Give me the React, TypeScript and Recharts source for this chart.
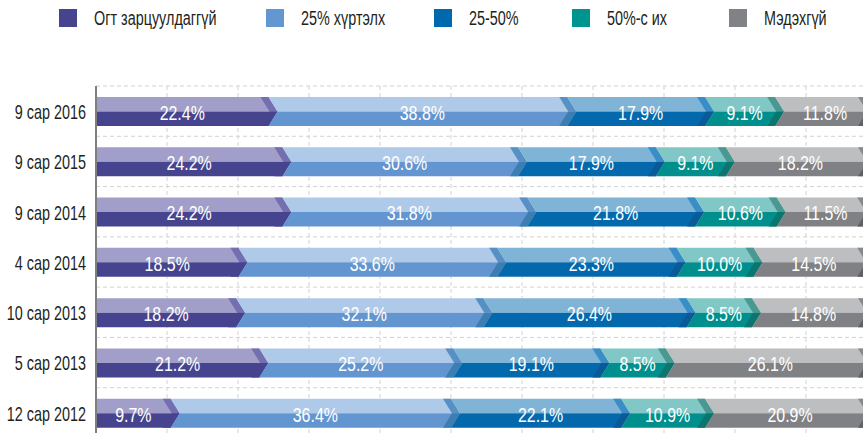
import { Bar, BarChart, CartesianGrid, LabelList, XAxis, YAxis } from "recharts";

const categories = [
  "9 сар 2016",
  "9 сар 2015",
  "9 сар 2014",
  "4 сар 2014",
  "10 сар 2013",
  "5 сар 2013",
  "12 сар 2012",
];

const seriesNames = ["Огт зарцуулдаггүй", "25% хүртэлх", "25-50%", "50%-с их", "Мэдэхгүй"];

const noneSpent = [22.4, 24.2, 24.2, 18.5, 18.2, 21.2, 9.7];
const upTo25 = [38.8, 30.6, 31.8, 33.6, 32.1, 25.2, 36.4];
const from25to50 = [17.9, 17.9, 21.8, 23.3, 26.4, 19.1, 22.1];
const over50 = [9.1, 9.1, 10.6, 10.0, 8.5, 8.5, 10.9];
const unknown = [11.8, 18.2, 11.5, 14.5, 14.8, 26.1, 20.9];

const keys = ["none", "upTo25", "mid", "over50", "unknown"];

const data = categories.map((cat, i) => ({
  cat,
  none: noneSpent[i],
  upTo25: upTo25[i],
  mid: from25to50[i],
  over50: over50[i],
  unknown: unknown[i],
}));

// light top half, dark bottom half, arrow face top/bottom, legend swatch
const palette = [
  { top: "#a19fc9", bottom: "#47448f", bandTop: "#736fb0", bandBottom: "#47448f", swatch: "#47448f" },
  { top: "#afc9e8", bottom: "#6395d0", bandTop: "#5690c4", bandBottom: "#3c7db2", swatch: "#6397d1" },
  { top: "#7fb4d6", bottom: "#0468ad", bandTop: "#3a8ec8", bandBottom: "#0a5a98", swatch: "#0069ad" },
  { top: "#80c7c6", bottom: "#008f8c", bandTop: "#4a9892", bandBottom: "#0b7670", swatch: "#009490" },
  { top: "#bdbec0", bottom: "#808184", bandTop: "#88898c", bandBottom: "#5f6063", swatch: "#808285" },
];

const legendLeft = [59, 266, 434, 572, 729];

// no condensed face installed, so squeeze Liberation Sans horizontally
const FONT = '"Liberation Sans", Arial, sans-serif';
const TIP = 9;
const BAND = 8;

const makeShape = (si: number) => (props: any) => {
  const { x, y, width: w, height: h } = props;
  if (w == null || h == null || isNaN(x)) return <g />;
  const c = palette[si];
  const n = si > 0 ? TIP : 0;
  const m = y + h / 2;
  const p = (pts: number[][]) => pts.map((q) => q.join(",")).join(" ");
  return (
    <g>
      <polygon fill={c.top} points={p([[x, y], [x + w, y], [x + w + TIP, m], [x + n, m]])} />
      <polygon fill={c.bottom} points={p([[x + n, m], [x + w + TIP, m], [x + w, y + h], [x, y + h]])} />
      <polygon fill={c.bandTop} points={p([[x + w - BAND, y], [x + w, y], [x + w + TIP, m], [x + w + TIP - BAND, m]])} />
      <polygon fill={c.bandBottom} points={p([[x + w + TIP - BAND, m], [x + w + TIP, m], [x + w, y + h], [x + w - BAND, y + h]])} />
    </g>
  );
};

const makeLabel = (si: number) => (props: any) => {
  const { x, y, width, height, value } = props;
  const cx = x + width / 2 + (si > 0 ? TIP / 2 : 0);
  return (
    <text
      transform={`translate(${cx},${y + height / 2 + 1}) scale(0.76,1)`}
      fill="#ffffff"
      fontSize={21}
      fontFamily={FONT}
      textAnchor="middle"
      dominantBaseline="central"
    >
      {Number(value).toFixed(1)}%
    </text>
  );
};

const CategoryTick = (props: any) => {
  const { x, y, payload } = props;
  return (
    <text
      transform={`translate(${x},${y + 1}) scale(0.72,1)`}
      fill="#231f20"
      fontSize={20}
      fontFamily={FONT}
      textAnchor="end"
      dominantBaseline="central"
    >
      {payload.value}
    </text>
  );
};

function ChartLegend() {
  return (
    <div style={{ position: "absolute", top: 0, left: 0, width: 863, height: 40 }}>
      {seriesNames.map((name, i) => (
        <div
          key={name}
          style={{ position: "absolute", left: legendLeft[i], top: 9, display: "flex", alignItems: "center" }}
        >
          <span style={{ width: 18, height: 18, background: palette[i].swatch, display: "inline-block" }} />
          <span
            style={{
              marginLeft: 17,
              fontSize: 20,
              fontFamily: FONT,
              color: "#231f20",
              lineHeight: "18px",
              whiteSpace: "nowrap",
              display: "inline-block",
              transform: "scaleX(0.72)",
              transformOrigin: "left center",
            }}
          >
            {name}
          </span>
        </div>
      ))}
    </div>
  );
}

export default function App() {
  return (
    <div style={{ position: "relative", width: 863, height: 433, overflow: "hidden", background: "#fff" }}>
      <style>{"body{margin:0}"}</style>
      <ChartLegend />
      <div style={{ position: "absolute", top: 0, left: 0 }}>
        <BarChart
          width={900}
          height={440}
          data={data}
          layout="vertical"
          margin={{ top: 86, right: 34, bottom: 2, left: 0 }}
          barSize={29}
        >
          <CartesianGrid
            stroke="#d2d2d2"
            strokeDasharray="4 3"
            horizontalCoordinatesGenerator={({ offset }: any) =>
              categories.map((_, i) => offset.top + ((i + 1) * offset.height) / categories.length).concat([offset.top])
            }
            verticalCoordinatesGenerator={({ offset }: any) =>
              Array.from({ length: 11 }, (_, k) => offset.left + (k + 1) * 71)
            }
          />
          <XAxis type="number" domain={[0, 100]} hide allowDataOverflow />
          <YAxis
            type="category"
            dataKey="cat"
            width={96}
            tickLine={false}
            tickSize={0}
            tickMargin={10}
            axisLine={{ stroke: "#7f7f7f", strokeWidth: 2 }}
            tick={<CategoryTick />}
          />
          {keys.map((k, si) => (
            <Bar key={k} dataKey={k} stackId="a" isAnimationActive={false} shape={makeShape(si)}>
              <LabelList dataKey={k} content={makeLabel(si)} />
            </Bar>
          ))}
        </BarChart>
      </div>
    </div>
  );
}
